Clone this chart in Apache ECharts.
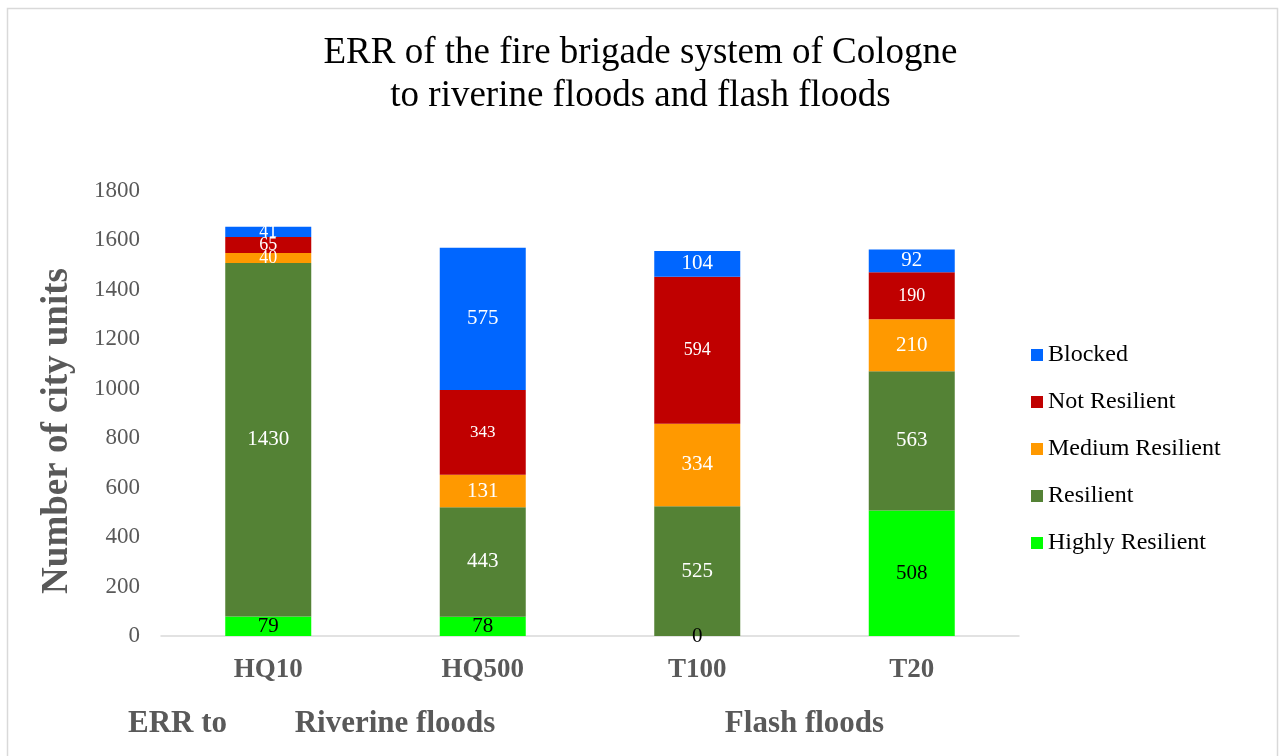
<!DOCTYPE html>
<html>
<head>
<meta charset="utf-8">
<title>ERR of the fire brigade system of Cologne</title>
<script src="https://cdn.jsdelivr.net/npm/echarts@6/dist/echarts.min.js"></script>
<style>
  html, body { margin: 0; padding: 0; background: #ffffff; }
  #chart { width: 1281px; height: 756px; }
</style>
</head>
<body>
<div id="chart"></div>
<script>
// Scenarios (x-axis categories)
const categories = ['HQ10', 'HQ500', 'T100', 'T20'];

// Number of city units per resilience class, bottom to top of each stack
const highlyResilient = [79, 78, 0, 508];
const resilient       = [1430, 443, 525, 563];
const mediumResilient = [40, 131, 334, 210];
const notResilient    = [65, 343, 594, 190];
const blocked         = [41, 575, 104, 92];

// Y-axis range
const yMin = 0;
const yMax = 1800;
const yStep = 200;

// Group captions under the category labels
const groupCaptions = ['ERR to', 'Riverine floods', 'Flash floods'];

const serif = '"Liberation Serif", "Times New Roman", serif';
const axisGray = '#595959';

// Label font size per bar segment (smaller where the text is cramped)
const labelSizes = {
  'Highly Resilient': [21, 21, 21, 21],
  'Resilient':        [21, 21, 21, 21],
  'Medium Resilient': [18, 21, 21, 21],
  'Not Resilient':    [18, 17, 18, 18],
  'Blocked':          [18, 21, 21, 21]
};

function makeSeries(name, values, color, labelColor) {
  return {
    name: name,
    type: 'bar',
    stack: 'units',
    barWidth: 86,
    itemStyle: { color: color },
    label: {
      show: true,
      position: 'inside',
      color: labelColor,
      fontFamily: serif,
      fontSize: 21
    },
    emphasis: { disabled: true },
    data: values.map(function (v, i) {
      return { value: v, label: { fontSize: labelSizes[name][i] } };
    })
  };
}

const chart = echarts.init(document.getElementById('chart'), null, { renderer: 'canvas' });

chart.setOption({
  backgroundColor: '#ffffff',
  animation: false,
  title: {
    text: 'ERR of the fire brigade system of Cologne\nto riverine floods and flash floods',
    left: 'center',
    top: 27,
    textStyle: {
      fontFamily: serif,
      fontWeight: 'normal',
      fontSize: 37,
      lineHeight: 43,
      color: '#000000'
    }
  },
  legend: {
    orient: 'vertical',
    left: 1026,
    top: 338,
    itemWidth: 12,
    itemHeight: 12,
    itemGap: 23,
    icon: 'rect',
    data: ['Blocked', 'Not Resilient', 'Medium Resilient', 'Resilient', 'Highly Resilient'],
    textStyle: {
      fontFamily: serif,
      fontSize: 24,
      lineHeight: 24,
      color: '#000000'
    },
    itemStyle: { borderWidth: 0 },
    selectedMode: false
  },
  grid: {
    left: 161,
    right: 262,
    top: 191,
    bottom: 120,
    containLabel: false
  },
  xAxis: {
    type: 'category',
    data: categories,
    axisLine: { show: true, lineStyle: { color: '#d9d9d9', width: 1.5 } },
    axisTick: { show: false },
    axisLabel: {
      margin: 21,
      fontFamily: serif,
      fontWeight: 'bold',
      fontSize: 27,
      color: axisGray
    },
    splitLine: { show: false }
  },
  yAxis: {
    type: 'value',
    min: yMin,
    max: yMax,
    interval: yStep,
    axisLine: { show: false },
    axisTick: { show: false },
    splitLine: { show: false },
    axisLabel: {
      margin: 21,
      fontFamily: serif,
      fontSize: 23,
      color: axisGray,
      formatter: function (v) { return String(v); }
    }
  },
  graphic: [
    {
      type: 'rect',
      silent: true,
      shape: { x: 7.5, y: 8.5, width: 1270, height: 800 },
      style: { fill: 'none', stroke: '#d9d9d9', lineWidth: 1.5 }
    },
    {
      type: 'text',
      silent: true,
      x: 57,
      y: 431,
      rotation: Math.PI / 2,
      style: {
        text: 'Number of city units',
        fontFamily: serif,
        fontWeight: 'bold',
        fontSize: 37,
        fill: axisGray,
        textAlign: 'center',
        textVerticalAlign: 'middle'
      }
    },
    {
      type: 'text', silent: true, x: 177.5, y: 724,
      style: { text: groupCaptions[0], fontFamily: serif, fontWeight: 'bold', fontSize: 31, fill: axisGray, textAlign: 'center', textVerticalAlign: 'middle' }
    },
    {
      type: 'text', silent: true, x: 395, y: 724,
      style: { text: groupCaptions[1], fontFamily: serif, fontWeight: 'bold', fontSize: 31, fill: axisGray, textAlign: 'center', textVerticalAlign: 'middle' }
    },
    {
      type: 'text', silent: true, x: 804.5, y: 724,
      style: { text: groupCaptions[2], fontFamily: serif, fontWeight: 'bold', fontSize: 31, fill: axisGray, textAlign: 'center', textVerticalAlign: 'middle' }
    }
  ],
  series: [
    makeSeries('Highly Resilient', highlyResilient, '#00ff00', '#000000'),
    makeSeries('Resilient', resilient, '#548235', '#ffffff'),
    makeSeries('Medium Resilient', mediumResilient, '#ff9900', '#ffffff'),
    makeSeries('Not Resilient', notResilient, '#c00000', '#ffffff'),
    makeSeries('Blocked', blocked, '#0066ff', '#ffffff')
  ]
});
</script>
</body>
</html>
